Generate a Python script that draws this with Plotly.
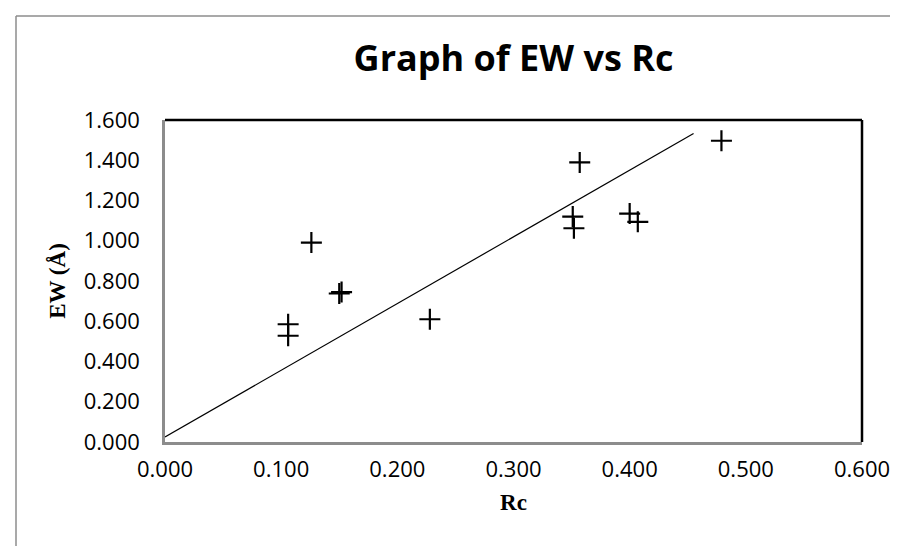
import plotly.graph_objects as go

# Data
rc_values = [0.106, 0.106, 0.126, 0.150, 0.152, 0.228, 0.351, 0.352, 0.357, 0.400, 0.407, 0.479]
ew_values = [0.585, 0.528, 0.991, 0.738, 0.745, 0.610, 1.120, 1.062, 1.389, 1.135, 1.094, 1.497]
trend_x = [0.0, 0.455]
trend_y = [0.025, 1.533]

x_ticks = [0.0, 0.1, 0.2, 0.3, 0.4, 0.5, 0.6]
y_ticks = [0.0, 0.2, 0.4, 0.6, 0.8, 1.0, 1.2, 1.4, 1.6]

W, H = 898, 546
L, R, T, B = 157, 44, 112, 112
pw, ph = W - L - R, H - T - B

fig = go.Figure()
fig.add_trace(go.Scatter(
    x=trend_x, y=trend_y, mode="lines",
    line=dict(color="black", width=1.2), showlegend=False, hoverinfo="skip"))
fig.add_trace(go.Scatter(
    x=rc_values, y=ew_values, mode="markers",
    marker=dict(symbol="cross-thin", size=15, line=dict(color="black", width=2.2)),
    showlegend=False))

tick_font = dict(family="Open Sans", size=22, color="black")

fig.update_layout(
    width=W, height=H,
    margin=dict(l=L, r=R, t=T, b=B, pad=0),
    paper_bgcolor="white", plot_bgcolor="white",
    title=dict(text="<b>Graph of EW vs Rc</b>", x=(L + pw / 2) / W, xanchor="center",
               y=1 - 50 / H, yanchor="middle",
               font=dict(family="Open Sans", size=36, color="black")),
    xaxis=dict(range=[0, 0.6], tickvals=x_ticks, ticktext=[f"{v:.3f}" for v in x_ticks],
               showgrid=False, zeroline=False, showline=True, linecolor="#8c8c8c", linewidth=2.5,
               ticks="outside", ticklen=6, tickcolor="rgba(0,0,0,0)", tickfont=tick_font,
               title=dict(text="<b>Rc</b>", font=dict(family="Liberation Serif", size=23, color="black"),
                          standoff=12)),
    yaxis=dict(range=[0, 1.6], tickvals=y_ticks, ticktext=[f"{v:.3f}" for v in y_ticks],
               showgrid=False, zeroline=False, showline=True, linecolor="#8c8c8c", linewidth=2.5,
               ticks="outside", ticklen=18, tickcolor="rgba(0,0,0,0)", tickfont=tick_font,
               title=dict(text="<b>EW (Å)</b>", font=dict(family="Liberation Serif", size=23, color="black"),
                          standoff=12)),
)

# plot-area border top and right (black)
fig.add_shape(type="line", xref="paper", yref="paper", x0=0, x1=1, y0=1, y1=1,
              line=dict(color="black", width=2.5))
fig.add_shape(type="line", xref="paper", yref="paper", x0=1, x1=1, y0=0, y1=1,
              line=dict(color="black", width=2.5))

# outer chart border (gray), partially visible
px2x = lambda px: (px - L) / pw
py2y = lambda py: (H - B - py) / ph
fig.add_shape(type="line", xref="paper", yref="paper", x0=px2x(8), x1=px2x(8), y0=py2y(8), y1=py2y(H + 5),
              line=dict(color="#8c8c8c", width=1.5))
fig.add_shape(type="line", xref="paper", yref="paper", x0=px2x(8), x1=px2x(W + 5), y0=py2y(8), y1=py2y(8),
              line=dict(color="#8c8c8c", width=1.5))

fig.write_html("out.html")
